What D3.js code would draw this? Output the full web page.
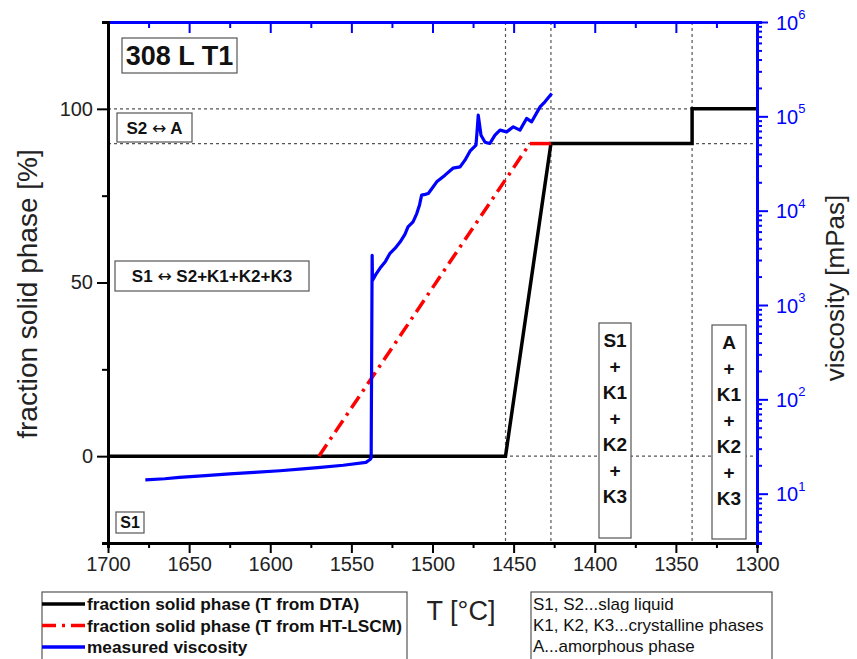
<!DOCTYPE html>
<html>
<head>
<meta charset="utf-8">
<script src="https://cdn.jsdelivr.net/npm/d3@7"></script>
<style>
  body { margin: 0; background: #fff; }
  svg { font-family: Arial, "Liberation Sans", sans-serif; }
</style>
</head>
<body>
<div id="chart"></div>
<script>
// ---- data ----
// fraction solid phase, T from DTA
var dtaT  = [1700, 1455, 1427, 1340, 1340, 1300]
var dtaFs = [0, 0, 90, 90, 100, 100]
// fraction solid phase, T from HT-LSCM
var lscmT  = [1570, 1440, 1427]
var lscmFs = [0, 90, 90]
// measured viscosity [mPas]
var viscT = [1677, 1665, 1656, 1640, 1625, 1610, 1594, 1580, 1569, 1555, 1541, 1538.5, 1537.8,
             1537.2, 1537.0, 1535, 1532.4, 1529, 1526.2, 1523, 1520, 1517, 1515.1, 1512, 1509.7,
             1508, 1506.7, 1504.5, 1502.6, 1500, 1497.4, 1492.3, 1487.4, 1483, 1480, 1476.9,
             1473.2, 1472.5, 1471.8, 1470.1, 1467.6, 1464.6, 1461.5, 1458.4, 1454.3, 1450.2,
             1446.1, 1442.0, 1438.9, 1433.7, 1430.7, 1426.5]
var viscEta = [14.0, 14.4, 14.9, 15.5, 16.2, 16.8, 17.5, 18.3, 19.0, 20.0, 21.5, 23, 24,
               3360, 1820, 2100, 2450, 2900, 3530, 4000, 4650, 5600, 6720, 7600, 9310,
               11500, 14600, 14900, 15200, 17500, 20200, 23800, 28200, 29100, 34300, 42700,
               49500, 70000, 103000, 63100, 53200, 51600, 63100, 71400, 68400, 77400,
               71400, 95000, 87500, 126000, 142600, 175000]
// dotted reference lines
var refT  = [1455, 1427, 1340]
var refFs = [0, 90, 100]
// ticks
var xTicks  = [1700, 1675, 1650, 1625, 1600, 1575, 1550, 1525, 1500, 1475, 1450, 1425, 1400, 1375, 1350, 1325, 1300]
var xLabels = [1700, 1650, 1600, 1550, 1500, 1450, 1400, 1350, 1300]
var fsTicks  = [-25, 0, 25, 50, 75, 100, 125]
var fsLabels = [0, 50, 100]

var legendItems = ['fraction solid phase (T from DTA)', 'fraction solid phase (T from HT-LSCM)', 'measured viscosity']
var legendColors = ['#000', '#f00', '#00f']
var noteLines = ['S1, S2...slag liquid', 'K1, K2, K3...crystalline phases', 'A...amorphous phase']
var phaseS1 = ['S1', '+', 'K1', '+', 'K2', '+', 'K3']
var phaseA  = ['A', '+', 'K1', '+', 'K2', '+', 'K3']

var W = 857, H = 659
// plot frame (pixels)
var pL = 108, pR = 757, pT = 22, pB = 543

var svg = d3.select('#chart').append('svg')
  .attr('width', W).attr('height', H)

var x  = d3.scaleLinear().domain([1700, 1300]).range([pL, pR])
var y  = d3.scaleLinear().domain([-25, 125]).range([pB, pT])
var yr = d3.scaleLog().domain([3, 1e6]).range([pB, pT])

// dotted lines
svg.selectAll('.hdot').data(refFs).enter().append('line')
  .attr('x1', pL).attr('x2', pR)
  .attr('y1', d => y(d)).attr('y2', d => y(d))
  .attr('stroke', '#555').attr('stroke-width', 1.2).attr('stroke-dasharray', '3,3')
svg.selectAll('.vdot').data(refT).enter().append('line')
  .attr('x1', d => x(d)).attr('x2', d => x(d))
  .attr('y1', pT).attr('y2', pB)
  .attr('stroke', '#555').attr('stroke-width', 1.2).attr('stroke-dasharray', '3,3')

// lines
var fsLine = d3.line().x(d => x(d[0])).y(d => y(d[1]))
svg.append('path')
  .attr('d', fsLine(d3.zip(dtaT, dtaFs)))
  .attr('fill', 'none').attr('stroke', '#000').attr('stroke-width', 3.5)
// red: dash-dot on the slope, solid on the short plateau
svg.append('path')
  .attr('d', fsLine(d3.zip(lscmT, lscmFs).slice(0, 2)))
  .attr('fill', 'none').attr('stroke', '#f00').attr('stroke-width', 3.5)
  .attr('stroke-dasharray', '14,6,3,6')
svg.append('path')
  .attr('d', fsLine(d3.zip(lscmT, lscmFs).slice(1)))
  .attr('fill', 'none').attr('stroke', '#f00').attr('stroke-width', 3.5)

var etaLine = d3.line().x(d => x(d[0])).y(d => yr(d[1]))
svg.append('path')
  .attr('d', etaLine(d3.zip(viscT, viscEta)))
  .attr('fill', 'none').attr('stroke', '#00f').attr('stroke-width', 3.2)
  .attr('stroke-linejoin', 'round')

// axes
var xAxis = svg.append('g').attr('transform', 'translate(0,' + pB + ')')
  .call(d3.axisBottom(x).tickValues(xTicks).tickSize(5)
    .tickFormat(d => xLabels.indexOf(d) >= 0 ? d : ''))
xAxis.selectAll('.tick line').filter(d => xLabels.indexOf(d) >= 0).attr('y2', 10)
xAxis.selectAll('.tick line').attr('stroke-width', 2)
xAxis.select('.domain').attr('stroke-width', 3)
xAxis.selectAll('text').attr('font-size', 20).attr('fill', '#222').attr('dy', '1.0em')

var topAxis = svg.append('g').attr('transform', 'translate(0,' + pT + ')')
  .call(d3.axisBottom(x).tickValues(xTicks).tickSize(6).tickFormat(''))
topAxis.selectAll('.tick line').filter(d => xLabels.indexOf(d) >= 0).attr('y2', 11)
topAxis.selectAll('.tick line').attr('stroke', '#00f').attr('stroke-width', 2)
topAxis.select('.domain').attr('stroke', '#00f').attr('stroke-width', 3)

var yAxis = svg.append('g').attr('transform', 'translate(' + pL + ',0)')
  .call(d3.axisLeft(y).tickValues(fsTicks).tickSize(6).tickPadding(9)
    .tickFormat(d => fsLabels.indexOf(d) >= 0 ? d : ''))
yAxis.selectAll('.tick line').filter(d => fsLabels.indexOf(d) >= 0).attr('x2', -11)
yAxis.selectAll('.tick line').attr('stroke-width', 2)
yAxis.select('.domain').attr('stroke-width', 3)
yAxis.selectAll('text').attr('font-size', 20).attr('fill', '#222')

var isPow = d => Math.abs(Math.log10(d) - Math.round(Math.log10(d))) < 1e-9
var rAxis = svg.append('g').attr('transform', 'translate(' + pR + ',0)')
  .call(d3.axisRight(yr).tickValues(yr.ticks()).tickSize(5).tickFormat(''))
rAxis.select('.domain').attr('stroke', '#00f').attr('stroke-width', 3)
rAxis.selectAll('.tick line').attr('stroke', '#00f').attr('stroke-width', 2)
  .filter(isPow).attr('x2', 11)
rAxis.selectAll('.tick').filter(isPow).append('text')
  .attr('x', 19).attr('dy', '0.35em').attr('fill', '#00f').attr('font-size', 20)
  .attr('text-anchor', 'start')
  .call(t => {
    t.append('tspan').text('10')
    t.append('tspan').attr('font-size', 13).attr('dy', '-0.8em')
      .text(d => Math.round(Math.log10(d)))
  })

// axis titles
svg.append('text')
  .attr('transform', 'translate(37,294) rotate(-90)')
  .attr('text-anchor', 'middle').attr('font-size', 28).attr('fill', '#222')
  .text('fraction solid phase [%]')
svg.append('text')
  .attr('transform', 'translate(844,288) rotate(-90)')
  .attr('text-anchor', 'middle').attr('font-size', 26).attr('fill', '#222')
  .text('viscosity [mPas]')
svg.append('text')
  .attr('x', 461).attr('y', 620)
  .attr('text-anchor', 'middle').attr('font-size', 27).attr('fill', '#222')
  .text('T [°C]')

// annotation boxes
function labelBox(x0, y0, w, h, parts, size) {
  svg.append('rect').attr('x', x0).attr('y', y0).attr('width', w).attr('height', h)
    .attr('fill', '#fff').attr('stroke', '#555').attr('stroke-width', 1.2)
  var t = svg.append('text').attr('x', x0 + w / 2).attr('y', y0 + h / 2).attr('dy', '0.36em')
    .attr('text-anchor', 'middle').attr('font-weight', 'bold').attr('font-size', size)
    .attr('fill', '#111')
  parts.forEach(function(p) {
    var s = t.append('tspan').text(p)
    if (p.indexOf('\u2194') >= 0) s.attr('font-family', '"DejaVu Sans"').attr('font-weight', 'normal')
  })
}
labelBox(122, 38, 115, 35, ['308 L T1'], 27)
labelBox(117, 113, 75, 29, ['S2 ', '\u2194', ' A'], 17)
labelBox(115, 261, 194, 30, ['S1 ', '\u2194', ' S2+K1+K2+K3'], 17)
labelBox(116, 512, 28, 21, ['S1'], 16)

function stackBox(x0, y0, w, h, items) {
  svg.append('rect').attr('x', x0).attr('y', y0).attr('width', w).attr('height', h)
    .attr('fill', '#fff').attr('stroke', '#555').attr('stroke-width', 1.2)
  svg.append('g').selectAll('text').data(items).enter().append('text')
    .attr('x', x0 + w / 2).attr('y', (d, i) => y0 + 17 + i * 26).attr('dy', '0.36em')
    .attr('text-anchor', 'middle').attr('font-weight', 'bold').attr('font-size', 19)
    .attr('fill', '#111').text(d => d)
}
stackBox(599, 323, 32, 215, phaseS1)
stackBox(712, 325, 34, 214, phaseA)

// legends
var lg = svg.append('g')
lg.append('rect').attr('x', 42).attr('y', 592).attr('width', 365).attr('height', 70)
  .attr('fill', '#fff').attr('stroke', '#555').attr('stroke-width', 1.2)
lg.selectAll('line').data(legendItems).enter().append('line')
  .attr('x1', 42).attr('x2', 85)
  .attr('y1', (d, i) => 604 + i * 21.5).attr('y2', (d, i) => 604 + i * 21.5)
  .attr('stroke', (d, i) => legendColors[i]).attr('stroke-width', 3.5)
  .attr('stroke-dasharray', (d, i) => i == 1 ? '14,6,3,6' : null)
lg.selectAll('text').data(legendItems).enter().append('text')
  .attr('x', 87).attr('y', (d, i) => 604 + i * 21.5).attr('dy', '0.36em')
  .attr('font-size', 17.3).attr('font-weight', 'bold').attr('fill', '#111')
  .text(d => d)

var ng = svg.append('g')
ng.append('rect').attr('x', 531).attr('y', 592).attr('width', 241).attr('height', 70)
  .attr('fill', '#fff').attr('stroke', '#555').attr('stroke-width', 1.2)
ng.selectAll('text').data(noteLines).enter().append('text')
  .attr('x', 533).attr('y', (d, i) => 604 + i * 21).attr('dy', '0.36em')
  .attr('font-size', 17).attr('fill', '#111')
  .text(d => d)
</script>
</body>
</html>
